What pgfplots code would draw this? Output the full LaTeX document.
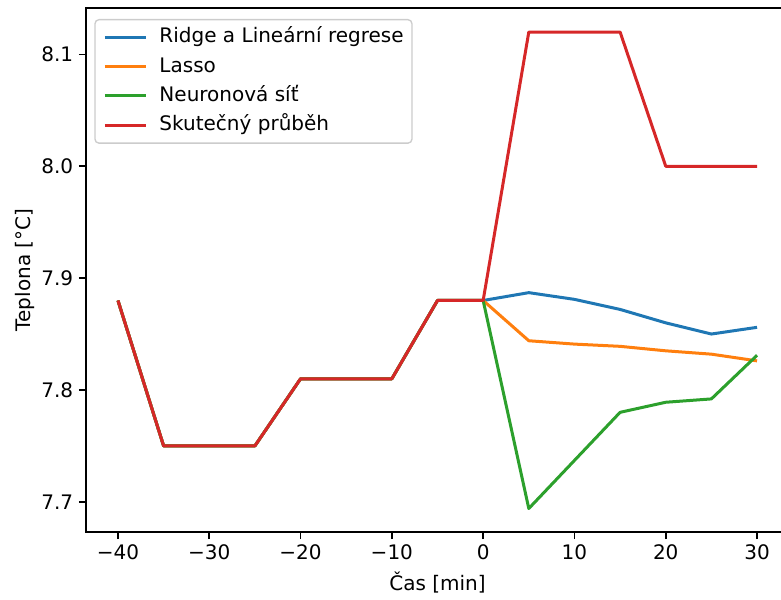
\documentclass[border=0pt]{standalone}
\usepackage{pgfplots}
\pgfplotsset{compat=1.18}
\usepackage{fontspec}
\setmainfont{DejaVu Sans}

\definecolor{tabblue}{HTML}{1F77B4}
\definecolor{taborange}{HTML}{FF7F0E}
\definecolor{tabgreen}{HTML}{2CA02C}
\definecolor{tabred}{HTML}{D62728}

\pgfplotstableread{
x y
-40 7.88
-35 7.75
-30 7.75
-25 7.75
-20 7.81
-15 7.81
-10 7.81
-5 7.88
0 7.88
5 7.887
10 7.881
15 7.872
20 7.860
25 7.850
30 7.856
}\ridge
\pgfplotstableread{
x y
-40 7.88
-35 7.75
-30 7.75
-25 7.75
-20 7.81
-15 7.81
-10 7.81
-5 7.88
0 7.88
5 7.844
10 7.841
15 7.839
20 7.835
25 7.832
30 7.826
}\lasso
\pgfplotstableread{
x y
-40 7.88
-35 7.75
-30 7.75
-25 7.75
-20 7.81
-15 7.81
-10 7.81
-5 7.88
0 7.88
5 7.694
10 7.737
15 7.780
20 7.789
25 7.792
30 7.831
}\neuro
\pgfplotstableread{
x y
-40 7.88
-35 7.75
-30 7.75
-25 7.75
-20 7.81
-15 7.81
-10 7.81
-5 7.88
0 7.88
5 8.12
10 8.12
15 8.12
20 8.00
25 8.00
30 8.00
}\actual

\begin{document}
\begin{tikzpicture}
\begin{axis}[
  at={(0,0)}, anchor=south west,
  scale only axis,
  width=421.8pt, height=314.4pt,
  xmin=-43.5, xmax=33.5,
  ymin=7.673, ymax=8.1415,
  xtick={-40,-30,-20,-10,0,10,20,30},
  xticklabels={−40,−30,−20,−10,0,10,20,30},
  ytick={7.7,7.8,7.9,8.0,8.1},
  yticklabels={7.7,7.8,7.9,8.0,8.1},
  xtick pos=bottom, ytick pos=left,
  tick align=outside,
  major tick length=4.2pt,
  every tick/.style={black, line width=0.96pt},
  axis line style={line width=0.96pt},
  tick label style={font=\fontsize{12}{14}\selectfont},
  label style={font=\fontsize{12}{14}\selectfont},
  xlabel={Čas [min]},
  ylabel={Teplona [°C]},
  ylabel style={yshift=-3pt},
  legend cell align=left,
  legend style={
    at={(0,1)}, anchor=north west, xshift=5pt, yshift=-6.6pt,
    draw=black!20, line width=0.8pt, rounded corners=2.4pt,
    font=\fontsize{12}{14}\selectfont,
    nodes={inner xsep=0pt, inner ysep=0pt, text height=9pt, text depth=2.6pt},
    row sep=5.9pt, column sep=7.4pt, inner sep=5pt,
  },
  legend image code/.code={\draw[#1, line width=1.8pt] (0pt,0pt) -- (24.5pt,0pt);},
  every axis plot/.append style={line width=1.8pt, line join=round},
]
\addplot[tabblue] table[x=x, y=y] {\ridge};
\addlegendentry{Ridge a Lineární regrese}
\addplot[taborange] table[x=x, y=y] {\lasso};
\addlegendentry{Lasso}
\addplot[tabgreen] table[x=x, y=y] {\neuro};
\addlegendentry{Neuronová síť}
\addplot[tabred] table[x=x, y=y] {\actual};
\addlegendentry{Skutečný průběh}
\end{axis}
\pgfresetboundingbox
\useasboundingbox (-51.6pt,-40.2pt) rectangle (417pt,319.2pt);
\end{tikzpicture}
\end{document}
